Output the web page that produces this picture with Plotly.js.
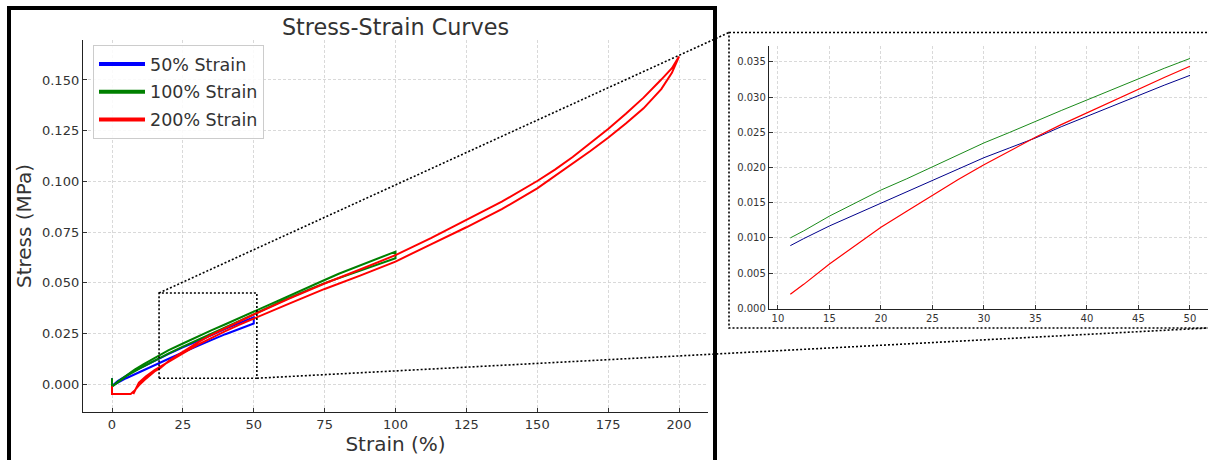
<!DOCTYPE html>
<html>
<head>
<meta charset="utf-8">
<script src="https://cdn.plot.ly/plotly-3.0.1.min.js"></script>
<style>html,body{margin:0;padding:0;background:#fff;}#chart{width:1208px;height:460px;}</style>
</head>
<body>
<div id="chart"></div>
<script>
// ---------------- data ----------------
// 50% strain cycle (load then unload)
const blueX = [0, 0, 2, 5, 8, 11.2, 15, 20, 25, 30, 35, 40, 45, 50, 50, 45, 40, 35, 30, 25, 20, 15, 10, 5, 0];
const blueY = [0.003, -0.0008, 0.0016, 0.0044, 0.0068, 0.0089, 0.0117, 0.0150, 0.0182, 0.0214, 0.0242, 0.0273, 0.0303, 0.0331,
               0.0300, 0.0274, 0.0247, 0.0218, 0.0189, 0.0157, 0.0126, 0.0095, 0.0063, 0.0030, -0.0008];
// 100% strain cycle
const greenX = [0, 0, 2, 5, 8, 11.2, 15, 20, 25, 30, 35, 40, 45, 50, 60, 70, 75, 80, 90, 100,
                100, 90, 80, 75, 70, 60, 50, 40, 30, 25, 20, 15, 10, 5, 0];
const greenY = [0.003, -0.0012, 0.0013, 0.0045, 0.0073, 0.0100, 0.0131, 0.0168, 0.0201, 0.0235, 0.0266, 0.0296, 0.0327, 0.0355,
                0.0418, 0.0483, 0.0514, 0.0545, 0.0600, 0.0654,
                0.0621, 0.0572, 0.0522, 0.0499, 0.0470, 0.0410, 0.0345, 0.0283, 0.0220, 0.0186, 0.0152, 0.0117, 0.0080, 0.0040, -0.0012];
// 200% strain cycle
const redX = [0, 0, 6.6, 8, 9.5, 11.2, 12, 13, 15, 17, 20, 22.5, 25, 30, 35, 40, 45, 50, 62.5, 75, 87.5, 100,
              112.5, 125, 137.5, 150, 156.25, 162.5, 168.75, 175, 181.25, 187.5, 193.75, 197.5, 200,
              197.5, 193.75, 187.5, 181.25, 175, 168.75, 162.5, 156.25, 150, 137.5, 125, 112.5, 100, 87.5, 75, 62.5, 50,
              45, 40, 35, 30, 25, 20, 15, 12, 9.5, 7.5];
const redY = [-0.0010, -0.0048, -0.0048, -0.0030, -0.0005, 0.0020, 0.0028, 0.0040, 0.0063, 0.0080, 0.0115, 0.0138, 0.0160,
              0.0204, 0.0243, 0.0278, 0.0311, 0.0344, 0.0422, 0.0497, 0.0566, 0.0637,
              0.0720, 0.0808, 0.0900, 0.1002, 0.1058, 0.1120, 0.1187, 0.1258, 0.1333, 0.1413, 0.1502, 0.1558, 0.1615,
              0.1535, 0.1455, 0.1360, 0.1285, 0.1215, 0.1150, 0.1090, 0.1027, 0.0966, 0.0863, 0.0774, 0.0690, 0.0605,
              0.0536, 0.0470, 0.0398, 0.0325,
              0.0294, 0.0262, 0.0228, 0.0193, 0.0152, 0.0113, 0.0070, 0.0040, 0.0008, -0.0048];

// zoomed inset (loading portion, 11.2 - 50 % strain)
const insetX = [11.2, 12.5, 15, 17.5, 20, 22.5, 25, 27.5, 30, 32.5, 35, 37.5, 40, 42.5, 45, 47.5, 50];
const insetBlue = [0.0089, 0.0099, 0.0117, 0.0133, 0.0150, 0.0166, 0.0182, 0.0198, 0.0214, 0.0228, 0.0242, 0.0258, 0.0273, 0.0288, 0.0303, 0.0317, 0.0331];
const insetGreen = [0.0100, 0.0110, 0.0131, 0.0150, 0.0168, 0.0184, 0.0201, 0.0218, 0.0235, 0.0250, 0.0266, 0.0281, 0.0296, 0.0311, 0.0327, 0.0341, 0.0355];
const insetRed = [0.0020, 0.0034, 0.0063, 0.0089, 0.0115, 0.0138, 0.0161, 0.0183, 0.0204, 0.0224, 0.0243, 0.0261, 0.0278, 0.0295, 0.0312, 0.0328, 0.0344];

const seriesNames = ['50% Strain', '100% Strain', '200% Strain'];
const zoomBoxX = [16.6, 51.1];
const zoomBoxY = [0.003, 0.045];

// ---------------- layout geometry ----------------
const W = 1208, H = 460;
const px = v => v / W, py = v => 1 - v / H;
const mainDomX = [px(83), px(708)], mainDomY = [py(412), py(40)];
const mainRangeX = [-10.23, 210.23], mainRangeY = [-0.01365, 0.1697];
const insDomX = [px(769), 1], insDomY = [py(308.7), py(46)];
const insRangeX = [9.13, 51.75], insRangeY = [-0.00006, 0.03727];

function toPaperX(v) { return mainDomX[0] + (v - mainRangeX[0]) / (mainRangeX[1] - mainRangeX[0]) * (mainDomX[1] - mainDomX[0]); }
function toPaperY(v) { return mainDomY[0] + (v - mainRangeY[0]) / (mainRangeY[1] - mainRangeY[0]) * (mainDomY[1] - mainDomY[0]); }

const C = { blue: '#0000ff', green: '#008000', red: '#ff0000' };
const font = 'DejaVu Sans, Liberation Sans, sans-serif';

const traces = [
  { x: blueX, y: blueY, mode: 'lines', line: { color: C.blue, width: 2 }, showlegend: false, xaxis: 'x', yaxis: 'y' },
  { x: greenX, y: greenY, mode: 'lines', line: { color: C.green, width: 2 }, showlegend: false, xaxis: 'x', yaxis: 'y' },
  { x: redX, y: redY, mode: 'lines', line: { color: C.red, width: 2 }, showlegend: false, xaxis: 'x', yaxis: 'y' },
  { x: insetX, y: insetBlue, mode: 'lines', line: { color: '#00008b', width: 1 }, showlegend: false, xaxis: 'x2', yaxis: 'y2' },
  { x: insetX, y: insetGreen, mode: 'lines', line: { color: '#1a8a1a', width: 1 }, showlegend: false, xaxis: 'x2', yaxis: 'y2' },
  { x: insetX, y: insetRed, mode: 'lines', line: { color: C.red, width: 1.2 }, showlegend: false, xaxis: 'x2', yaxis: 'y2' },
  // legend entries
  { x: [null], y: [null], mode: 'lines', name: seriesNames[0], legendgroup: 'a', line: { color: C.blue, width: 4 }, xaxis: 'x', yaxis: 'y' },
  { x: [null], y: [null], mode: 'lines', name: seriesNames[1], legendgroup: 'b', line: { color: C.green, width: 4 }, xaxis: 'x', yaxis: 'y' },
  { x: [null], y: [null], mode: 'lines', name: seriesNames[2], legendgroup: 'c', line: { color: C.red, width: 4 }, xaxis: 'x', yaxis: 'y' }
];

const gridStyle = { showgrid: true, gridcolor: '#cfcfcf', gridwidth: 0.8, griddash: '3px,2px', zeroline: false,
  showline: true, linecolor: '#222', linewidth: 1.2, ticks: 'inside', ticklen: 4, tickcolor: '#333', mirror: false };

const dotted = { color: '#000', width: 1.6, dash: '2px,2px' };
const shapes = [
  { type: 'rect', xref: 'paper', yref: 'paper', x0: px(9), x1: px(715), y0: py(8), y1: py(462), line: { color: '#000', width: 4 } },
  { type: 'rect', xref: 'x', yref: 'y', x0: zoomBoxX[0], x1: zoomBoxX[1], y0: zoomBoxY[0], y1: zoomBoxY[1], line: dotted },
  { type: 'rect', xref: 'paper', yref: 'paper', x0: px(729), x1: px(1212), y0: py(32.5), y1: py(328), line: dotted },
  { type: 'line', xref: 'paper', yref: 'paper', x0: toPaperX(zoomBoxX[0]), y0: toPaperY(zoomBoxY[1]), x1: px(729), y1: py(32.5), line: dotted },
  { type: 'line', xref: 'paper', yref: 'paper', x0: toPaperX(zoomBoxX[1]), y0: toPaperY(zoomBoxY[0]), x1: px(1208), y1: py(328), line: dotted }
];

const layout = {
  width: W, height: H,
  margin: { l: 0, r: 0, t: 0, b: 0 },
  paper_bgcolor: '#fff', plot_bgcolor: 'rgba(0,0,0,0)',
  font: { family: font, color: '#333' },
  showlegend: true,
  title: { text: 'Stress-Strain Curves', font: { size: 22.3, color: '#333', family: font },
           x: px(395.5), xanchor: 'center', xref: 'paper', y: py(27), yanchor: 'middle', yref: 'paper' },
  xaxis: Object.assign({}, gridStyle, { domain: mainDomX, range: mainRangeX, dtick: 25, tick0: 0,
    tickfont: { size: 13, color: '#333' }, anchor: 'y',
    title: { text: 'Strain (%)', font: { size: 20, color: '#333' }, standoff: 3 } }),
  yaxis: Object.assign({}, gridStyle, { domain: mainDomY, range: mainRangeY, dtick: 0.025, tick0: 0, tickformat: '.3f',
    tickfont: { size: 13, color: '#333' }, anchor: 'x',
    title: { text: 'Stress (MPa)', font: { size: 20, color: '#333' }, standoff: 5 } }),
  xaxis2: Object.assign({}, gridStyle, { domain: insDomX, range: insRangeX, dtick: 5, tick0: 0, anchor: 'y2',
    tickfont: { size: 10, color: '#333' } }),
  yaxis2: Object.assign({}, gridStyle, { domain: insDomY, range: insRangeY, dtick: 0.005, tick0: 0, tickformat: '.3f', anchor: 'x2',
    tickfont: { size: 10, color: '#333' } }),
  legend: { x: px(93), y: py(45), xanchor: 'left', yanchor: 'top', bgcolor: 'rgba(255,255,255,0.85)',
    bordercolor: '#cccccc', borderwidth: 1, font: { size: 17.5, color: '#333' }, itemwidth: 46, tracegroupgap: 2 },
  shapes: shapes,
  hovermode: false
};

Plotly.newPlot('chart', traces, layout, { staticPlot: true, displayModeBar: false });
</script>
</body>
</html>
